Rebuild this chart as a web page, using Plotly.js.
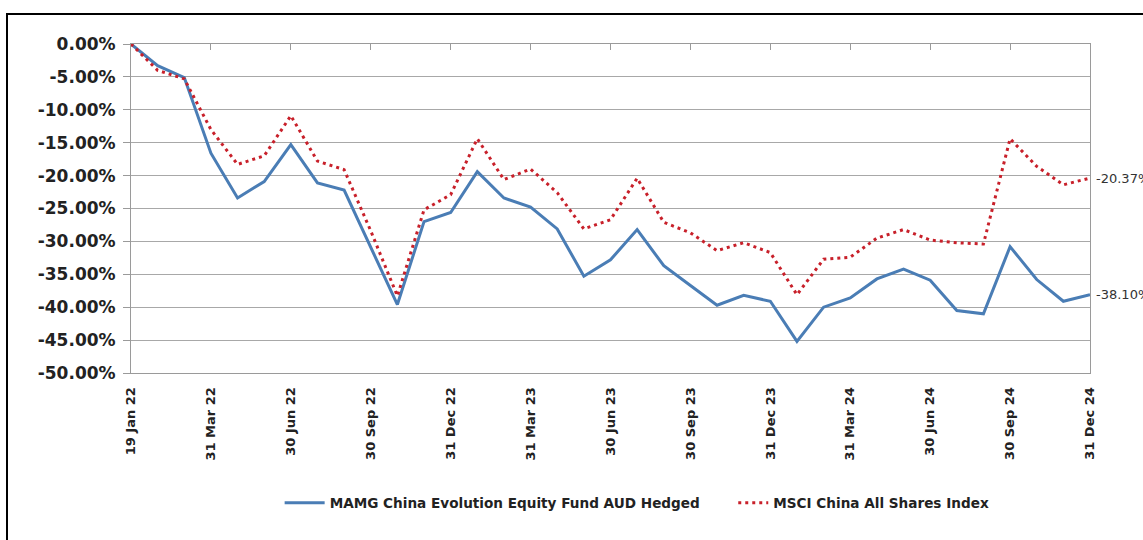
<!DOCTYPE html>
<html>
<head>
<meta charset="utf-8">
<script src="https://cdn.plot.ly/plotly-3.0.1.min.js"></script>
<style>
  html, body { margin: 0; padding: 0; background: #fff; }
  #wrap { position: relative; width: 1143px; height: 540px; overflow: hidden; }
  #chart { position: absolute; left: 0; top: 0; width: 1143px; height: 540px; }
  #frame { position: absolute; left: 6px; top: 13px; width: 1200px; height: 600px;
           border: 2px solid #000; pointer-events: none; box-sizing: border-box; }
</style>
</head>
<body>
<div id="wrap">
  <div id="chart"></div>
  <div id="frame"></div>
</div>
<script>
const dates = [
  "19 Jan 22", "31 Jan 22", "28 Feb 22", "31 Mar 22", "30 Apr 22", "31 May 22", "30 Jun 22",
  "31 Jul 22", "31 Aug 22", "30 Sep 22", "31 Oct 22", "30 Nov 22", "31 Dec 22",
  "31 Jan 23", "28 Feb 23", "31 Mar 23", "30 Apr 23", "31 May 23", "30 Jun 23",
  "31 Jul 23", "31 Aug 23", "30 Sep 23", "31 Oct 23", "30 Nov 23", "31 Dec 23",
  "31 Jan 24", "29 Feb 24", "31 Mar 24", "30 Apr 24", "31 May 24", "30 Jun 24",
  "31 Jul 24", "31 Aug 24", "30 Sep 24", "31 Oct 24", "30 Nov 24", "31 Dec 24"
];
const fundName = "MAMG China Evolution Equity Fund AUD Hedged";
const indexName = "MSCI China All Shares Index";
const fundValues = [0, -3.3, -5.1, -16.6, -23.4, -20.9, -15.3, -21.1, -22.2, -30.8, -39.6, -27.0, -25.6,
  -19.4, -23.4, -24.8, -28.1, -35.3, -32.8, -28.2, -33.7, -36.7, -39.7, -38.2, -39.1,
  -45.2, -40.0, -38.6, -35.7, -34.2, -35.9, -40.5, -41.0, -30.8, -35.8, -39.1, -38.10];
const indexValues = [0, -4.0, -5.3, -13.0, -18.3, -17.0, -10.9, -17.8, -19.1, -28.4, -38.3, -25.2, -22.9,
  -14.4, -20.6, -19.0, -22.6, -28.1, -26.7, -20.4, -27.1, -28.7, -31.4, -30.2, -31.7,
  -38.1, -32.7, -32.4, -29.5, -28.2, -29.8, -30.2, -30.4, -14.4, -18.6, -21.4, -20.37];
const yTickValues = [0, -5, -10, -15, -20, -25, -30, -35, -40, -45, -50];
const xTickLabels = dates.filter((d, i) => i % 3 === 0);

const fmt = v => (v < 0 ? "-" : "") + Math.abs(v).toFixed(2) + "%";

const traces = [
  {
    x: dates, y: fundValues, name: fundName, type: "scatter", mode: "lines",
    line: { color: "#4A7DB5", width: 3 }, legend: "legend"
  },
  {
    x: dates, y: indexValues, name: indexName, type: "scatter", mode: "lines",
    line: { color: "#C8202A", width: 3, dash: "3px,4px" }, legend: "legend2"
  },
  {
    x: dates, y: dates.map(() => null), xaxis: "x2", type: "scatter", mode: "lines",
    showlegend: false, hoverinfo: "skip"
  }
];

const legendFont = { family: "DejaVu Sans", size: 13.6, color: "#222", weight: "bold" };

const layout = {
  width: 1143, height: 540,
  margin: { l: 131, r: 53, t: 44, b: 167 },
  paper_bgcolor: "#ffffff", plot_bgcolor: "#ffffff",
  showlegend: true,
  legend: {
    orientation: "h", x: 0.155, xanchor: "left", y: -0.395, yanchor: "middle",
    font: legendFont, itemwidth: 40
  },
  legend2: {
    orientation: "h", x: 0.628, xanchor: "left", y: -0.395, yanchor: "middle",
    font: legendFont, itemwidth: 30
  },
  xaxis: {
    type: "category", categoryorder: "array", categoryarray: dates,
    range: [0, dates.length - 1],
    tickmode: "array", tickvals: xTickLabels, ticktext: xTickLabels,
    tickangle: -90, ticks: "", ticklabelstandoff: 8, showgrid: false, zeroline: false,
    showline: true, linecolor: "#9a9a9a", linewidth: 1, mirror: false,
    tickfont: { family: "DejaVu Sans", size: 13, color: "#222", weight: "bold" }
  },
  xaxis2: {
    type: "category", categoryorder: "array", categoryarray: dates,
    range: [0, dates.length - 1], overlaying: "x", side: "top", anchor: "y",
    tickmode: "array", tickvals: xTickLabels, ticks: "inside", ticklen: 6,
    tickcolor: "#9a9a9a", showticklabels: false, showgrid: false, zeroline: false,
    showline: true, linecolor: "#9a9a9a", linewidth: 1
  },
  yaxis: {
    range: [-50, 0], tickmode: "array", tickvals: yTickValues,
    ticktext: yTickValues.map(fmt),
    ticks: "outside", ticklen: 7, tickcolor: "#9a9a9a", ticklabelstandoff: 4,
    showgrid: true, gridcolor: "#a8a8a8", gridwidth: 1, zeroline: false,
    showline: true, linecolor: "#9a9a9a", linewidth: 1, mirror: true,
    tickfont: { family: "DejaVu Sans", size: 17, color: "#222", weight: "bold" }
  },
  annotations: [
    { x: dates[dates.length - 1], y: indexValues[indexValues.length - 1], xref: "x", yref: "y",
      text: fmt(indexValues[indexValues.length - 1]), showarrow: false, xanchor: "left", xshift: 4,
      font: { family: "DejaVu Sans", size: 13, color: "#333" } },
    { x: dates[dates.length - 1], y: fundValues[fundValues.length - 1], xref: "x", yref: "y",
      text: fmt(fundValues[fundValues.length - 1]), showarrow: false, xanchor: "left", xshift: 4,
      font: { family: "DejaVu Sans", size: 13, color: "#333" } }
  ]
};

Plotly.newPlot("chart", traces, layout, { displayModeBar: false, staticPlot: true });
</script>
</body>
</html>
